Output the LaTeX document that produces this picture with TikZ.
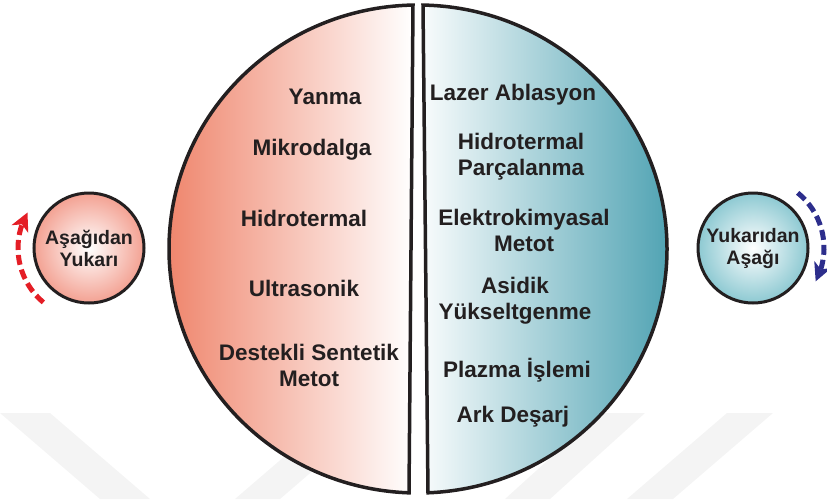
\documentclass[tikz,border=0pt]{standalone}
\usepackage{fontspec}
\setmainfont{Liberation Sans}
\usetikzlibrary{arrows.meta,bending}
\definecolor{ink}{RGB}{35,31,32}
\definecolor{salmonL}{RGB}{239,133,108}
\definecolor{tealR}{RGB}{80,163,179}
\definecolor{salmonS}{RGB}{243,161,146}
\definecolor{tealS}{RGB}{141,201,210}
\definecolor{wm}{RGB}{244,244,244}
\definecolor{redarr}{RGB}{228,30,38}
\definecolor{bluearr}{RGB}{45,46,140}
\begin{document}
\begin{tikzpicture}[x=1pt,y=-1pt,
  lbl/.style={font=\bfseries\fontsize{22.5}{26}\selectfont, text=ink, align=center, inner sep=0pt},
  smallcirc/.style={circle, draw=ink, line width=3pt, minimum size=110pt, inner sep=0pt,
     inner color=white, font=\bfseries\fontsize{19.5}{22}\selectfont, text=ink, align=center},
  halfline/.style={draw=ink, line width=3.5pt, line join=miter},
  dasharrow/.style={line width=5pt, dash pattern=on 10pt off 5pt, -{Stealth[length=18pt,width=18pt,inset=5pt]}},
  wmband/.style={fill=wm, draw=none}]
\useasboundingbox (0,0) rectangle (827,499);
% faint watermark bands
\path[wmband] (0,413) -- (50,413) -- (150,499) -- (100,499) -- cycle;
\path[wmband] (235,499) -- (280,499) -- (380,413) -- (335,413) -- cycle;
\path[wmband] (505,499) -- (550,499) -- (645,413) -- (600,413) -- cycle;
\path[wmband] (627,499) -- (673,499) -- (773,413) -- (727,413) -- cycle;
% left half
\draw[halfline, left color=salmonL, right color=white]
  (413,5.05) arc[start angle=268.85, end angle=92.07, x radius=249, y radius=244] -- cycle;
% right half
\draw[halfline, left color=white!96!tealR, right color=tealR]
  (423,5.05) arc[start angle=-88.85, end angle=87.70, x radius=249, y radius=244] -- cycle;
% left texts
\node[lbl] (yanma) at (325,97) {Yanma};
\node[lbl] (mikro) at (312,150) {Mikrodalga};
\node[lbl] (hidro) at (304,218) {Hidrotermal};
\node[lbl] (ultra) at (304,288) {Ultrasonik};
\node[lbl] (destek) at (309,365) {Destekli Sentetik\\Metot};
% right texts
\node[lbl] (lazer) at (513,95) {Lazer Ablasyon};
\node[lbl] (hparc) at (521,157) {Hidrotermal\\Parçalanma};
\node[lbl] (elektro) at (524,230) {Elektrokimyasal\\Metot};
\node[lbl] (asidik) at (515,301) {Asidik\\Yükseltgenme};
\node[lbl] (plazma) at (517,370) {Plazma İşlemi};
\node[lbl] (ark) at (513,417) {Ark Deşarj};
% small circles
\node[smallcirc, outer color=salmonS] (lc) at (89,248) {Aşağıdan\\Yukarı};
\node[smallcirc, outer color=tealS] (rc) at (753,248) {Yukarıdan\\Aşağı};
% arrows
\draw[dasharrow, draw=redarr]
  ([shift={(130:71)}]lc.center) arc[start angle=130, end angle=210, radius=71];
\draw[dasharrow, draw=bluearr]
  ([shift={(-51:71)}]rc.center) arc[start angle=-51, end angle=28, radius=71];
\end{tikzpicture}
\end{document}
